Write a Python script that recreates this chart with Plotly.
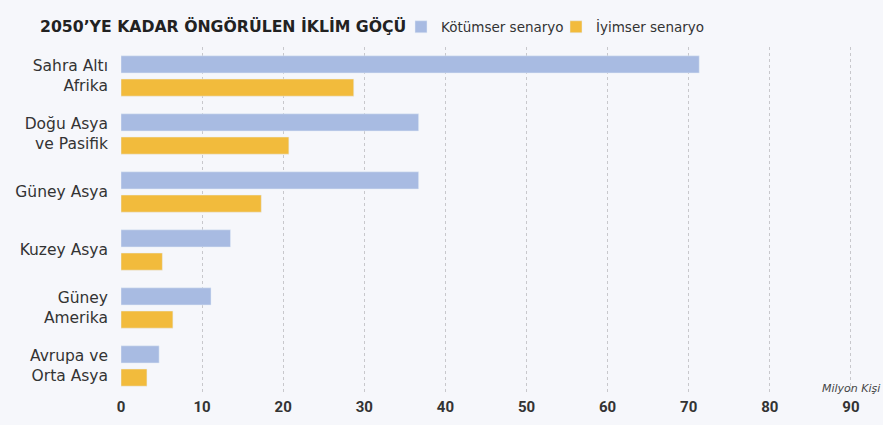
import plotly.graph_objects as go

categories = ["Sahra Altı<br>Afrika", "Doğu Asya<br>ve Pasifik", "Güney Asya", "Kuzey Asya",
              "Güney<br>Amerika", "Avrupa ve<br>Orta Asya"]
pessimistic = [71.3, 36.7, 36.7, 13.5, 11.1, 4.7]
optimistic = [28.7, 20.7, 17.3, 5.1, 6.4, 3.2]
series_names = ["Kötümser senaryo", "İyimser senaryo"]
x_ticks = [0, 10, 20, 30, 40, 50, 60, 70, 80, 90]

fig = go.Figure()
fig.add_trace(go.Bar(y=categories, x=pessimistic, orientation="h", name=series_names[0],
                     marker=dict(color="#a8bbe2"), hoverinfo="x+y"))
fig.add_trace(go.Bar(y=categories, x=optimistic, orientation="h", name=series_names[1],
                     marker=dict(color="#f2bb3c"), hoverinfo="x+y"))

fig.update_layout(
    width=883, height=425,
    margin=dict(l=121, r=24, t=47, b=30, autoexpand=False),
    paper_bgcolor="#f6f7fb", plot_bgcolor="#f6f7fb",
    barmode="group", bargap=0.2, bargroupgap=0.26,
    font=dict(family="DejaVu Sans, sans-serif", color="#333333"),
    title=dict(text="<b>2050’YE KADAR ÖNGÖRÜLEN İKLİM GÖÇÜ</b>", x=40/883, xanchor="left",
               xref="container", y=1-27/425, yanchor="middle", yref="container",
               font=dict(size=15.7, color="#222222", family="DejaVu Sans, sans-serif")),
    legend=dict(orientation="h", xref="container", yref="container", x=401/883, xanchor="left",
                y=1-27/425, yanchor="middle", font=dict(size=13.5, color="#333333"),
                itemwidth=30, entrywidth=110, traceorder="normal", bgcolor="rgba(0,0,0,0)"),
    xaxis=dict(range=[0, 91], tickvals=x_ticks, showgrid=True, gridcolor="#c8c8cc",
               griddash="dot", gridwidth=1, zeroline=False, showline=False, automargin=False,
               tickfont=dict(size=15, color="#333333", family="Roboto, sans-serif", weight="bold"),
               ticks="", ticklabelstandoff=1),
    yaxis=dict(autorange="reversed", showgrid=False, zeroline=False, showline=False,
               automargin=False,
               tickfont=dict(size=15.5, color="#333333"), ticks="", ticklabelstandoff=12),
    annotations=[dict(text="<i>Milyon Kişi</i>", x=90, xref="x", y=0, yref="paper",
                      xanchor="center", yanchor="bottom", showarrow=False,
                      font=dict(size=11, color="#444444"), yshift=-2)],
)

fig.write_html("out.html", config={"displayModeBar": False},
               post_script="document.body.style.margin='0';")
